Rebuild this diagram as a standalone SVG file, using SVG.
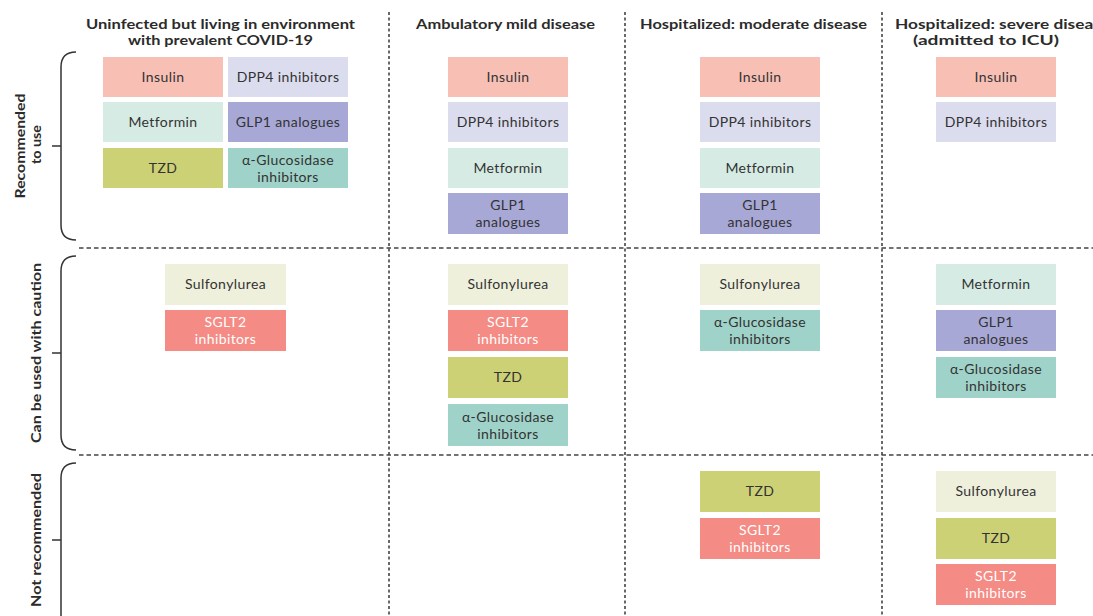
<svg xmlns="http://www.w3.org/2000/svg" width="1093" height="616" viewBox="0 0 1093 616">
<style>
  .bt { font-family: Lato, "Open Sans", "Liberation Sans", sans-serif; font-size: 14px; letter-spacing: 0.4px; fill: #333; text-anchor: middle; }
  .wt { fill: #ffffff; }
  .hd { font-family: Lato, "Open Sans", "Liberation Sans", sans-serif; font-size: 13.5px; font-weight: bold; fill: #2b2b2b; text-anchor: middle; }
  .rl { font-family: Lato, "Open Sans", "Liberation Sans", sans-serif; font-size: 13.5px; font-weight: bold; fill: #2b2b2b; text-anchor: middle; }
  .ins { fill: #f8c0b5; }
  .dpp { fill: #dcdcef; }
  .met { fill: #d5ebe4; }
  .glp { fill: #a8a8d7; }
  .tzd { fill: #cdd176; }
  .agl { fill: #9fd2c8; }
  .sul { fill: #eef0dc; }
  .sgl { fill: #f48b84; }
  .vline { stroke: #444; stroke-width: 1.6; stroke-dasharray: 3 2.5; fill: none; }
  .hline { stroke: #444; stroke-width: 1.6; stroke-dasharray: 4.5 3; fill: none; }
  .brace { stroke: #333; stroke-width: 1.5; fill: none; }
</style>

<g id="grid">
  <line class="vline" x1="389" y1="12" x2="389" y2="616"/>
  <line class="vline" x1="625" y1="12" x2="625" y2="616"/>
  <line class="vline" x1="882" y1="12" x2="882" y2="616"/>
  <line class="hline" x1="79" y1="248" x2="1093" y2="248"/>
  <line class="hline" x1="79" y1="455" x2="1093" y2="455"/>
</g>

<g id="braces">
  <path class="brace" d="M76,52 Q61,52 61,67 L61,225 Q61,240 76,240 M52,146 L61,146"/>
  <path class="brace" d="M76,256 Q61,256 61,271 L61,435 Q61,450 76,450 M52,353 L61,353"/>
  <path class="brace" d="M76,463 Q61,463 61,478 L61,616 M52,540 L61,540"/>
</g>

<g id="row-labels">
  <text class="rl" transform="translate(24.5,146) rotate(-90)"><tspan x="0" y="0" textLength="105" lengthAdjust="spacingAndGlyphs">Recommended</tspan><tspan x="1.5" y="16.5" textLength="39" lengthAdjust="spacingAndGlyphs">to use</tspan></text>
  <text class="rl" transform="translate(41,353) rotate(-90)" textLength="180" lengthAdjust="spacingAndGlyphs">Can be used with caution</text>
  <text class="rl" transform="translate(41,540) rotate(-90)" textLength="134" lengthAdjust="spacingAndGlyphs">Not recommended</text>
</g>

<g id="headers">
  <text class="hd"><tspan x="220.5" y="28.5" textLength="269" lengthAdjust="spacingAndGlyphs">Uninfected but living in environment</tspan><tspan x="220.5" y="44.5" textLength="185" lengthAdjust="spacingAndGlyphs">with prevalent COVID-19</tspan></text>
  <text class="hd" x="505.5" y="29" textLength="179" lengthAdjust="spacingAndGlyphs">Ambulatory mild disease</text>
  <text class="hd" x="753.5" y="29" textLength="227" lengthAdjust="spacingAndGlyphs">Hospitalized: moderate disease</text>
  <text class="hd"><tspan x="1002.5" y="28.5" textLength="215" lengthAdjust="spacingAndGlyphs">Hospitalized: severe disease</tspan><tspan x="986" y="45" textLength="146" lengthAdjust="spacingAndGlyphs">(admitted to ICU)</tspan></text>
</g>

<!-- Column 1: Uninfected -->
<g id="c1-insulin"><rect class="ins" x="103" y="57" width="120" height="40"/><text class="bt" x="163" y="81.5">Insulin</text></g>
<g id="c1-dpp4"><rect class="dpp" x="228" y="57" width="120" height="40"/><text class="bt" x="288" y="81.5">DPP4 inhibitors</text></g>
<g id="c1-metformin"><rect class="met" x="103" y="102" width="120" height="40"/><text class="bt" x="163" y="126.5">Metformin</text></g>
<g id="c1-glp1"><rect class="glp" x="228" y="102" width="120" height="40"/><text class="bt" x="288" y="126.5">GLP1 analogues</text></g>
<g id="c1-tzd"><rect class="tzd" x="103" y="148" width="120" height="40"/><text class="bt" x="163" y="172.5">TZD</text></g>
<g id="c1-aglu"><rect class="agl" x="228" y="148" width="120" height="40"/><text class="bt"><tspan x="288" y="164.5">α-Glucosidase</tspan><tspan x="288" y="181.5">inhibitors</tspan></text></g>
<g id="c1-sulfonylurea"><rect class="sul" x="165" y="264" width="121" height="41"/><text class="bt" x="225.5" y="289">Sulfonylurea</text></g>
<g id="c1-sglt2"><rect class="sgl" x="165" y="310" width="121" height="41"/><text class="bt wt"><tspan x="225.5" y="327">SGLT2</tspan><tspan x="225.5" y="344">inhibitors</tspan></text></g>

<!-- Column 2: Ambulatory -->
<g id="c2-insulin"><rect class="ins" x="448" y="57" width="120" height="40"/><text class="bt" x="508" y="81.5">Insulin</text></g>
<g id="c2-dpp4"><rect class="dpp" x="448" y="102" width="120" height="40"/><text class="bt" x="508" y="126.5">DPP4 inhibitors</text></g>
<g id="c2-metformin"><rect class="met" x="448" y="148" width="120" height="40"/><text class="bt" x="508" y="172.5">Metformin</text></g>
<g id="c2-glp1"><rect class="glp" x="448" y="193" width="120" height="41"/><text class="bt"><tspan x="508" y="210">GLP1</tspan><tspan x="508" y="227">analogues</tspan></text></g>
<g id="c2-sulfonylurea"><rect class="sul" x="448" y="264" width="120" height="41"/><text class="bt" x="508" y="289">Sulfonylurea</text></g>
<g id="c2-sglt2"><rect class="sgl" x="448" y="310" width="120" height="41"/><text class="bt wt"><tspan x="508" y="327">SGLT2</tspan><tspan x="508" y="344">inhibitors</tspan></text></g>
<g id="c2-tzd"><rect class="tzd" x="448" y="357" width="120" height="41"/><text class="bt" x="508" y="382">TZD</text></g>
<g id="c2-aglu"><rect class="agl" x="448" y="404" width="120" height="42"/><text class="bt"><tspan x="508" y="421.5">α-Glucosidase</tspan><tspan x="508" y="438.5">inhibitors</tspan></text></g>

<!-- Column 3: Moderate -->
<g id="c3-insulin"><rect class="ins" x="700" y="57" width="120" height="40"/><text class="bt" x="760" y="81.5">Insulin</text></g>
<g id="c3-dpp4"><rect class="dpp" x="700" y="102" width="120" height="40"/><text class="bt" x="760" y="126.5">DPP4 inhibitors</text></g>
<g id="c3-metformin"><rect class="met" x="700" y="148" width="120" height="40"/><text class="bt" x="760" y="172.5">Metformin</text></g>
<g id="c3-glp1"><rect class="glp" x="700" y="193" width="120" height="41"/><text class="bt"><tspan x="760" y="210">GLP1</tspan><tspan x="760" y="227">analogues</tspan></text></g>
<g id="c3-sulfonylurea"><rect class="sul" x="700" y="264" width="120" height="41"/><text class="bt" x="760" y="289">Sulfonylurea</text></g>
<g id="c3-aglu"><rect class="agl" x="700" y="310" width="120" height="41"/><text class="bt"><tspan x="760" y="327">α-Glucosidase</tspan><tspan x="760" y="344">inhibitors</tspan></text></g>
<g id="c3-tzd"><rect class="tzd" x="700" y="471" width="120" height="41"/><text class="bt" x="760" y="496">TZD</text></g>
<g id="c3-sglt2"><rect class="sgl" x="700" y="518" width="120" height="41"/><text class="bt wt"><tspan x="760" y="535">SGLT2</tspan><tspan x="760" y="552">inhibitors</tspan></text></g>

<!-- Column 4: Severe -->
<g id="c4-insulin"><rect class="ins" x="936" y="57" width="120" height="40"/><text class="bt" x="996" y="81.5">Insulin</text></g>
<g id="c4-dpp4"><rect class="dpp" x="936" y="102" width="120" height="40"/><text class="bt" x="996" y="126.5">DPP4 inhibitors</text></g>
<g id="c4-metformin"><rect class="met" x="936" y="264" width="120" height="41"/><text class="bt" x="996" y="289">Metformin</text></g>
<g id="c4-glp1"><rect class="glp" x="936" y="310" width="120" height="41"/><text class="bt"><tspan x="996" y="327">GLP1</tspan><tspan x="996" y="344">analogues</tspan></text></g>
<g id="c4-aglu"><rect class="agl" x="936" y="357" width="120" height="41"/><text class="bt"><tspan x="996" y="374">α-Glucosidase</tspan><tspan x="996" y="391">inhibitors</tspan></text></g>
<g id="c4-sulfonylurea"><rect class="sul" x="936" y="471" width="120" height="41"/><text class="bt" x="996" y="496">Sulfonylurea</text></g>
<g id="c4-tzd"><rect class="tzd" x="936" y="518" width="120" height="41"/><text class="bt" x="996" y="543">TZD</text></g>
<g id="c4-sglt2"><rect class="sgl" x="936" y="564" width="120" height="41"/><text class="bt wt"><tspan x="996" y="581">SGLT2</tspan><tspan x="996" y="598">inhibitors</tspan></text></g>
</svg>
